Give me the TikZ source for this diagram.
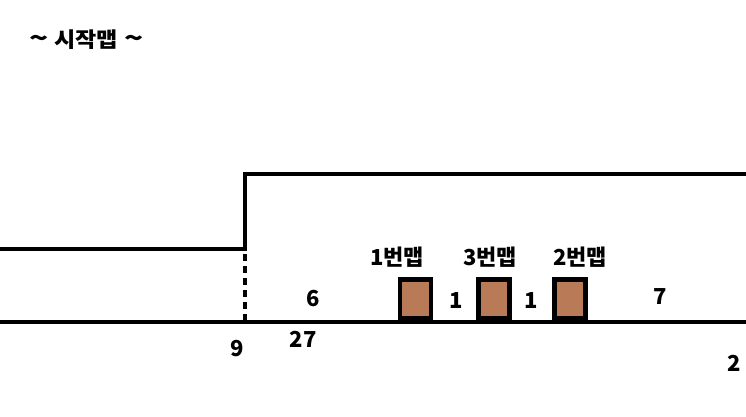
\documentclass[tikz,border=0pt]{standalone}
\usepackage{fontspec}
\setmainfont{Noto Sans CJK KR}[BoldFont={Noto Sans CJK KR Black}]
\definecolor{mapbrown}{HTML}{B97A57}
\tikzset{
  wall/.style={line width=4.6pt, line cap=rect},
  door/.style={line width=4.6pt, dash pattern=on 7pt off 5pt},
  mapbox/.style={draw, line width=4.8pt, fill=mapbrown, minimum width=31pt, minimum height=39pt, inner sep=0pt, anchor=south},
  lbl/.style={font=\bfseries\fontsize{22}{22}\selectfont, inner sep=0pt},
  num/.style={font=\bfseries\fontsize{22}{22}\selectfont, inner sep=0pt},
  ttl/.style={font=\bfseries\fontsize{21}{21}\selectfont, inner sep=0pt, anchor=west},
}
\begin{document}
\begin{tikzpicture}[x=1pt,y=-1pt]
\useasboundingbox (0,0) rectangle (746,416);
\coordinate (L0) at (0,249);
\coordinate (J1) at (245,249);
\coordinate (J2) at (245,174);
\coordinate (R1) at (748,174);
\coordinate (B0) at (-2,322);
\coordinate (J3) at (245,322);
\coordinate (B1) at (748,322);
\draw[wall] (L0) -- (J1) -- (J2) -- (R1);
\draw[wall] (B0) -- (B1);
\draw[door] (J1) ++(0,5) -- (J3);
\node[mapbox] (m1) at (415.5,321) {};
\node[mapbox] (m3) at (494,321) {};
\node[mapbox] (m2) at (570,321) {};
\node[lbl] (t1) at (397,257) {1번맵};
\node[lbl] (t3) at (490,257) {3번맵};
\node[lbl] (t2) at (580,257) {2번맵};
\node[num] (n6) at (313,299) {6};
\node[num] (n1a) at (456,301) {1};
\node[num] (n1b) at (531,301) {1};
\node[num] (n7) at (660,297) {7};
\node[num] (n9) at (237,349) {9};
\node[num] (n27) at (303,339) {27};
\node[num] (n2) at (734,363) {2};
\node[ttl] (title) at (29,40) {\scalebox{1.5}[1.2]{\textasciitilde}\hspace{6pt}\scalebox{1.1}[1]{시작맵}\hspace{6pt}\scalebox{1.5}[1.2]{\textasciitilde}};
\end{tikzpicture}
\end{document}
